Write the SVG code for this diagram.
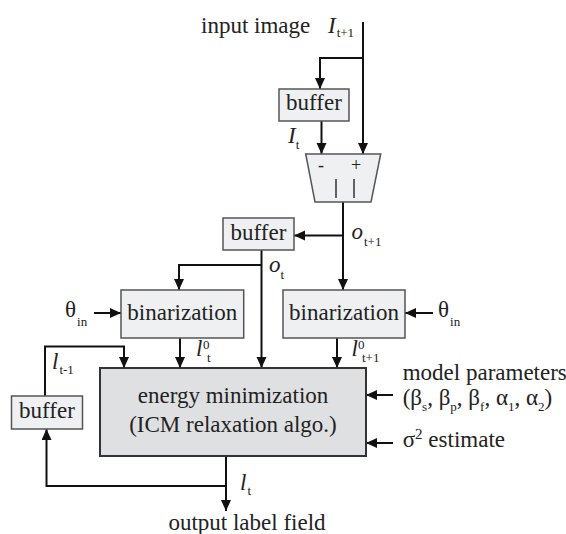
<svg xmlns="http://www.w3.org/2000/svg" width="566" height="534" viewBox="0 0 566 534" font-family="'Liberation Serif', 'DejaVu Serif', serif">
<style>
.box{fill:#eef0f1;stroke:#555;stroke-width:1.5}
.big{fill:#dfe0e1;stroke:#333;stroke-width:2}
.t{font-family:'Liberation Serif','DejaVu Serif',serif;font-size:23px;fill:#222}
.c{text-anchor:middle}
.i{font-style:italic}
.s{font-size:13px;font-style:normal}
.w{fill:none;stroke:#111;stroke-width:2;marker-end:url(#ah)}
.bar{stroke:#333;stroke-width:1.5}
</style>
<defs>
<marker id="ah" markerUnits="userSpaceOnUse" markerWidth="12" markerHeight="11" refX="11" refY="5" orient="auto">
<path d="M0,0 L11,5 L0,10 z" fill="#111"/>
</marker>
</defs>
<rect width="566" height="534" fill="#fff"/>
<g id="connectors">
<path class="w" d="M363,22 V154"/>
<path class="w" d="M363,58 H320 V89"/>
<path class="w" d="M321.5,121 V154"/>
<path class="w" d="M343,202 V290"/>
<path class="w" d="M343,235.5 H294"/>
<path class="w" d="M261.5,250 V368"/>
<path class="w" d="M261.5,265 H179 V290"/>
<path class="w" d="M180,338 V368"/>
<path class="w" d="M337,338 V368"/>
<path class="w" d="M94,313 H121"/>
<path class="w" d="M433,313 H405"/>
<path class="w" d="M226,456 V511"/>
<path class="w" d="M226,486 H46.5 V429"/>
<path class="w" d="M45,396 V346.5 H124 V368"/>
<path class="w" d="M393,395 H366"/>
<path class="w" d="M393,443 H366"/>
</g>
<g id="input-label">
<text class="t" x="201" y="33">input image</text>
<text class="t i" x="328" y="33">I<tspan class="s" dx="1" dy="4">t+1</tspan></text>
</g>
<g id="buffer1">
<rect class="box" x="279" y="89" width="70" height="32"/>
<text class="t c" x="314" y="110">buffer</text>
</g>
<text class="t i" x="288" y="143">I<tspan class="s" dx="0" dy="6">t</tspan></text>
<g id="subtractor">
<polygon class="box" points="305.7,154 380.7,154 371,202 315,202"/>
<text class="t c" x="321" y="171" style="font-size:18px">-</text>
<text class="t c" x="356" y="171" style="font-size:18px">+</text>
<line class="bar" x1="336" y1="179" x2="336" y2="198"/>
<line class="bar" x1="354" y1="179" x2="354" y2="198"/>
</g>
<text class="t i" x="351.5" y="239">o<tspan class="s" dx="1" dy="7">t+1</tspan></text>
<g id="buffer2">
<rect class="box" x="223" y="218" width="71" height="32"/>
<text class="t c" x="258.5" y="240">buffer</text>
</g>
<text class="t i" x="269" y="272">o<tspan class="s" dx="0" dy="7">t</tspan></text>
<g id="binarization-left">
<rect class="box" x="121" y="290" width="122.7" height="48"/>
<text class="t c" x="182.3" y="320">binarization</text>
</g>
<g id="binarization-right">
<rect class="box" x="283" y="290" width="122" height="48"/>
<text class="t c" x="344" y="320">binarization</text>
</g>
<text class="t" x="65" y="317">θ<tspan class="s" dx="1" dy="9">in</tspan></text>
<text class="t" x="438" y="317">θ<tspan class="s" dx="1" dy="9">in</tspan></text>
<text class="t i" x="196" y="356">l</text>
<text class="t s" x="203" y="349">0</text>
<text class="t s" x="207" y="362">t</text>
<text class="t i" x="351.5" y="356">l</text>
<text class="t s" x="358" y="349">0</text>
<text class="t s" x="362" y="362">t+1</text>
<g id="energy-minimization">
<rect class="big" x="100" y="368" width="266" height="88"/>
<text class="t c" x="233" y="403">energy minimization</text>
<text class="t c" x="233" y="432">(ICM relaxation algo.)</text>
</g>
<g id="buffer3">
<rect class="box" x="11.5" y="396" width="71" height="33"/>
<text class="t c" x="47" y="418">buffer</text>
</g>
<text class="t i" x="52" y="369">l<tspan class="s" dx="1" dy="5">t-1</tspan></text>
<text class="t i" x="240" y="490">l<tspan class="s" dx="1" dy="5">t</tspan></text>
<text class="t c" x="247" y="530">output label field</text>
<g id="parameters">
<text class="t" x="402.7" y="380">model parameters</text>
<text class="t" x="402.7" y="405">(β<tspan class="s" dy="6">s</tspan><tspan dy="-6">, β</tspan><tspan class="s" dy="6">p</tspan><tspan dy="-6">, β</tspan><tspan class="s" dy="6">f</tspan><tspan dy="-6">, α</tspan><tspan class="s" dy="6">1</tspan><tspan dy="-6">, α</tspan><tspan class="s" dy="6">2</tspan><tspan dy="-6">)</tspan></text>
<text class="t" x="402.7" y="447">σ<tspan style="font-size:15px" dy="-8">2</tspan><tspan dy="8"> estimate</tspan></text>
</g>
</svg>
